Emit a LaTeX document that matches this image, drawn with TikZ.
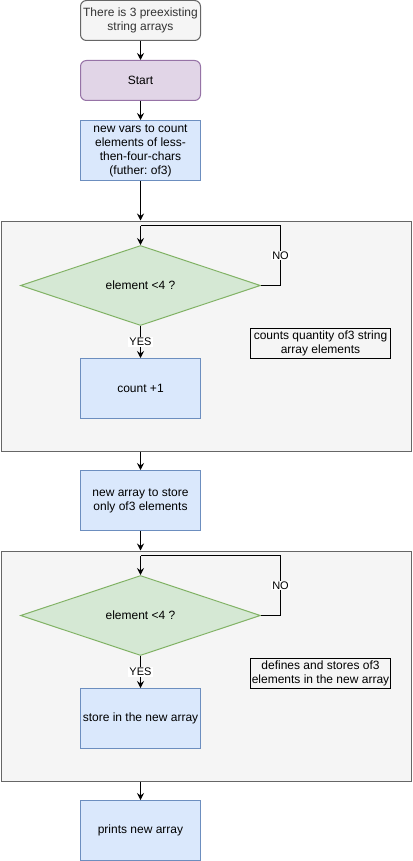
\documentclass[tikz,border=0pt]{standalone}
\usepackage{fontspec}
\setmainfont{Liberation Sans}
\frenchspacing
\usetikzlibrary{shapes.geometric,arrows.meta}
\definecolor{greyfill}{HTML}{F5F5F5}
\definecolor{greyline}{HTML}{666666}
\definecolor{purplefill}{HTML}{E1D5E7}
\definecolor{purpleline}{HTML}{9673A6}
\definecolor{bluefill}{HTML}{DAE8FC}
\definecolor{blueline}{HTML}{6C8EBF}
\definecolor{greenfill}{HTML}{D5E8D4}
\definecolor{greenline}{HTML}{82B366}
\tikzset{
  base/.style={inner sep=1pt, align=center, font=\fontsize{12}{14}\selectfont, line width=1pt},
  startbox/.style={base, rounded corners=6pt, minimum width=120pt, minimum height=40pt},
  stepbox/.style={base, draw=blueline, fill=bluefill, minimum width=120pt, minimum height=60pt},
  decision/.style={base, diamond, draw=greenline, fill=greenfill, minimum width=240pt, minimum height=80pt, inner sep=0pt},
  group/.style={draw=greyline, fill=greyfill, line width=1pt},
  note/.style={base, draw=black, minimum width=140pt, minimum height=30pt, inner sep=1pt},
  arr/.style={line width=1pt, -{Stealth[length=7pt,width=7pt,inset=2.5pt]}},
  edgelabel/.style={fill=white, inner sep=1pt, font=\fontsize{11}{13}\selectfont},
}
\begin{document}
\begin{tikzpicture}[x=1pt, y=-1pt]
\useasboundingbox (0,0) rectangle (412,861);

% group frames
\node[group, minimum width=410pt, minimum height=230pt, anchor=north west, inner sep=0pt] (c1) at (0.5,220.5) {};
\node[group, minimum width=410pt, minimum height=230pt, anchor=north west, inner sep=0pt] (c2) at (0.5,550.5) {};

% main column
\node[startbox, draw=greyline, fill=greyfill, text=black!80] (pre) at (140.5,20.5) {There is 3 preexisting\\string arrays};
\node[startbox, draw=purpleline, fill=purplefill] (start) at (140.5,80.5) {Start};
\node[stepbox] (vars) at (140.5,150.5) {new vars to count\\elements of less-\\then-four-chars\\(futher: of3)};

% first loop
\node[decision] (d1) at (140.5,285.5) {element \textless4 ?};
\node[stepbox] (cnt) at (140.5,388.5) {count +1};
\node[note] (n1) at (320.5,343.5) {counts quantity of3 string\\array elements};
\coordinate (l1) at (140.5,225.5);
\coordinate (r1) at (280.5,225.5);

\node[stepbox] (arr) at (140.5,500.5) {new array to store\\only of3 elements};

% second loop
\node[decision] (d2) at (140.5,615.5) {element \textless4 ?};
\node[stepbox] (store) at (140.5,718.5) {store in the new array};
\node[note] (n2) at (320.5,673.5) {defines and stores of3\\elements in the new array};
\coordinate (l2) at (140.5,555.5);
\coordinate (r2) at (280.5,555.5);

\node[stepbox] (print) at (140.5,830.5) {prints new array};

% connectors
\draw[arr] (pre) -- (start);
\draw[arr] (start) -- (vars);
\draw[arr] (vars.south) -- (vars.south |- c1.north);
\draw[line width=1pt] (d1.east) -| (r1) node[pos=0.75, edgelabel] {NO} -- (l1);
\draw[arr] (l1) -- (d1.north);
\draw[arr] (d1.south) -- (cnt.north) node[midway, edgelabel] {YES};
\draw[arr] (vars.south |- c1.south) -- (arr.north);
\draw[arr] (arr.south) -- (arr.south |- c2.north);
\draw[line width=1pt] (d2.east) -| (r2) node[pos=0.75, edgelabel] {NO} -- (l2);
\draw[arr] (l2) -- (d2.north);
\draw[arr] (d2.south) -- (store.north) node[midway, edgelabel] {YES};
\draw[arr] (arr.south |- c2.south) -- (print.north);
\end{tikzpicture}
\end{document}
